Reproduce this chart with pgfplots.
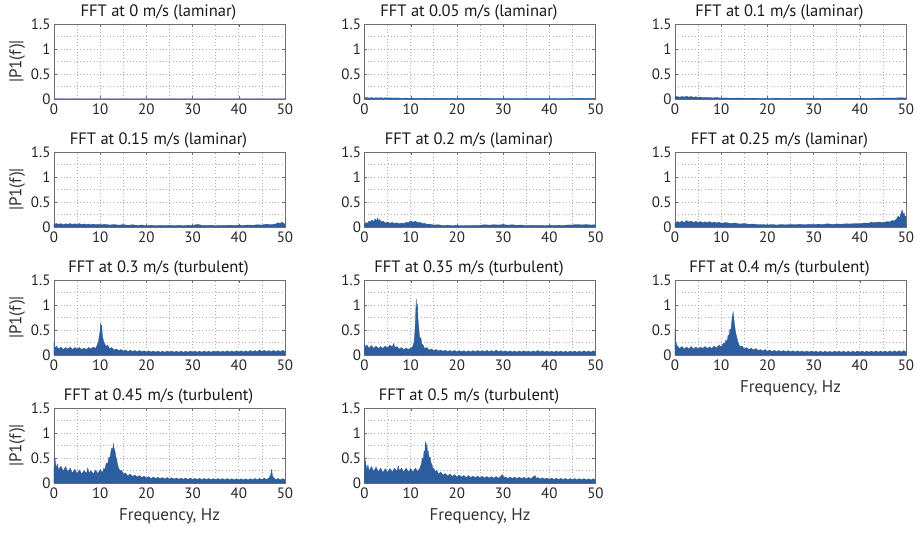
\documentclass[border=0pt]{standalone}
\usepackage{fontspec}
\setmainfont{PT Sans}
\usepackage{pgfplots}
\pgfplotsset{compat=1.18}
\usepgfplotslibrary{groupplots}

\definecolor{fftblue}{RGB}{44,93,158}
\definecolor{axgray}{RGB}{110,110,110}

\pgfplotsset{
  fftax/.style={
    scale only axis, width=231pt, height=75pt,
    xmin=0, xmax=50, ymin=0, ymax=1.5,
    xtick={0,10,...,50}, ytick={0,0.5,1,1.5},
    minor xtick={5,15,...,45}, minor ytick={0.25,0.75,1.25},
    grid=both,
    major grid style={black!30, dash pattern=on 0.9pt off 2.4pt, line width=0.6pt},
    minor grid style={black!30, dash pattern=on 0.9pt off 2.4pt, line width=0.6pt},
    axis line style={axgray, line width=0.7pt},
    tick style={axgray}, tick align=inside,
    major tick length=3pt, minor tick length=0pt,
    tick label style={font=\fontsize{15}{15}\selectfont, text=black!85},
    xticklabel style={yshift=-1.5pt},
    /pgf/number format/assume math mode=true,
    title style={font=\fontsize{16.5}{17}\selectfont, text=black!90, yshift=-6pt, xshift=-11pt},
    label style={font=\fontsize{17}{18}\selectfont, text=black!80},
    ylabel style={yshift=-1pt},
    xlabel style={yshift=-3pt},
  },
  fft/.style={fill=fftblue, draw=fftblue, line width=0.3pt},
}

\begin{document}
\begin{tikzpicture}
\begin{groupplot}[
  group style={group size=3 by 4, horizontal sep=79.5pt, vertical sep=53pt},
  fftax,
]

% 0 m/s
\nextgroupplot[title={FFT at 0 m/s (laminar)}, ylabel={|P1(f)|}]
\addplot[fft, draw=fftblue!70, line width=0.8pt] coordinates {(0,0.006)(1,0.004)(2,0.005)(5,0.004)(10,0.004)(20,0.003)(30,0.004)(40,0.003)(50,0.004)} \closedcycle;

% 0.05 m/s
\nextgroupplot[title={FFT at 0.05 m/s (laminar)}]
\addplot[fft] coordinates {(0,0.02)(0.5,0.03)(1,0.02)(1.5,0.028)(2,0.018)(2.5,0.026)(3,0.02)(3.5,0.027)(4,0.018)(4.5,0.025)(5,0.02)(5.5,0.024)(6,0.017)(7,0.022)(8,0.014)(9,0.018)(10,0.012)(12,0.015)(14,0.01)(16,0.012)(20,0.01)(25,0.011)(30,0.009)(35,0.01)(40,0.009)(45,0.01)(50,0.01)} \closedcycle;

% 0.1 m/s
\nextgroupplot[title={FFT at 0.1 m/s (laminar)}]
\addplot[fft] coordinates {(0,0.04)(0.5,0.05)(1,0.035)(1.5,0.05)(2,0.04)(2.5,0.055)(3,0.038)(3.5,0.05)(4,0.035)(4.5,0.045)(5,0.03)(5.5,0.04)(6,0.028)(6.5,0.035)(7,0.025)(7.5,0.032)(8,0.022)(9,0.028)(10,0.018)(11,0.022)(12,0.015)(14,0.018)(16,0.012)(20,0.014)(24,0.011)(28,0.013)(32,0.011)(36,0.012)(40,0.012)(43,0.015)(45,0.02)(47,0.018)(49,0.025)(50,0.02)} \closedcycle;

% 0.15 m/s
\nextgroupplot[title={FFT at 0.15 m/s (laminar)}, ylabel={|P1(f)|}]
\addplot[fft] coordinates {(0,0.05)(0.5,0.07)(1,0.055)(1.5,0.068)(2,0.05)(2.5,0.065)(3,0.055)(3.5,0.07)(4,0.05)(4.5,0.066)(5,0.052)(5.5,0.068)(6,0.05)(6.5,0.062)(7,0.048)(7.5,0.06)(8,0.045)(8.5,0.058)(9,0.045)(9.5,0.056)(10,0.042)(11,0.055)(12,0.04)(13,0.05)(14,0.038)(15,0.048)(16,0.035)(17,0.045)(18,0.032)(19,0.04)(20,0.028)(21,0.036)(22,0.026)(23,0.034)(24,0.027)(25,0.035)(26,0.027)(27,0.034)(28,0.028)(29,0.036)(30,0.03)(31,0.052)(31.5,0.045)(32,0.035)(33,0.03)(34,0.036)(35,0.028)(36,0.035)(37,0.03)(38,0.037)(39,0.03)(40,0.038)(41,0.032)(42,0.04)(43,0.035)(44,0.045)(45,0.04)(46,0.058)(47,0.045)(47.5,0.055)(48,0.06)(48.5,0.085)(49,0.07)(49.3,0.1)(49.6,0.075)(50,0.06)} \closedcycle;

% 0.2 m/s
\nextgroupplot[title={FFT at 0.2 m/s (laminar)}]
\addplot[fft] coordinates {(0,0.04)(0.3,0.09)(0.6,0.07)(1,0.12)(1.3,0.1)(1.6,0.14)(2,0.11)(2.3,0.16)(2.6,0.12)(2.8,0.18)(3,0.13)(3.3,0.15)(3.6,0.1)(4,0.12)(4.5,0.08)(5,0.1)(5.5,0.075)(6,0.09)(6.5,0.07)(7,0.085)(7.5,0.065)(8,0.08)(8.5,0.07)(9,0.095)(9.5,0.09)(10,0.12)(10.5,0.1)(11,0.115)(11.5,0.09)(12,0.095)(12.5,0.07)(13,0.075)(13.5,0.055)(14,0.06)(15,0.04)(16,0.045)(17,0.03)(18,0.036)(19,0.028)(20,0.034)(21,0.026)(22,0.032)(23,0.027)(24,0.034)(25,0.035)(26,0.045)(27,0.038)(28,0.046)(29,0.04)(30,0.048)(31,0.038)(32,0.044)(33,0.034)(34,0.04)(35,0.03)(36,0.036)(37,0.03)(38,0.035)(39,0.028)(40,0.034)(41,0.03)(42,0.036)(43,0.032)(44,0.04)(45,0.042)(46,0.05)(47,0.042)(48,0.048)(49,0.04)(50,0.045)} \closedcycle;

% 0.25 m/s
\nextgroupplot[title={FFT at 0.25 m/s (laminar)}]
\addplot[fft] coordinates {(0,0.07)(0.5,0.11)(1,0.09)(1.5,0.12)(2,0.09)(2.5,0.13)(3,0.1)(3.5,0.12)(4,0.09)(4.5,0.115)(5,0.09)(5.5,0.11)(6,0.085)(6.5,0.105)(7,0.085)(7.5,0.11)(8,0.08)(8.5,0.1)(9,0.08)(9.5,0.1)(10,0.075)(11,0.09)(12,0.07)(13,0.08)(14,0.06)(15,0.07)(16,0.055)(17,0.06)(18,0.045)(19,0.05)(20,0.04)(21,0.05)(22,0.04)(23,0.05)(24,0.042)(25,0.052)(26,0.045)(27,0.055)(28,0.045)(29,0.055)(30,0.048)(31,0.058)(32,0.05)(33,0.065)(34,0.052)(35,0.06)(36,0.055)(37,0.065)(38,0.06)(39,0.07)(40,0.065)(41,0.08)(42,0.075)(42.5,0.1)(43,0.085)(44,0.1)(45,0.09)(46,0.11)(46.5,0.1)(47,0.13)(47.5,0.12)(48,0.17)(48.3,0.22)(48.6,0.18)(49,0.3)(49.2,0.34)(49.4,0.25)(49.6,0.28)(49.8,0.2)(50,0.22)} \closedcycle;

% 0.3 m/s
\nextgroupplot[title={FFT at 0.3 m/s (turbulent)}, ylabel={|P1(f)|}]
\addplot[fft] coordinates {(0,0.26)(0.25,0.13)(0.5,0.18)(1,0.12)(1.5,0.16)(2,0.11)(2.5,0.15)(3,0.12)(3.5,0.16)(4,0.11)(4.5,0.15)(5,0.12)(5.5,0.15)(6,0.11)(6.5,0.14)(7,0.11)(7.5,0.15)(8,0.12)(8.5,0.16)(9,0.13)(9.3,0.19)(9.6,0.26)(9.8,0.38)(10,0.5)(10.1,0.64)(10.2,0.52)(10.3,0.6)(10.45,0.42)(10.6,0.33)(10.8,0.26)(11,0.22)(11.3,0.17)(11.6,0.2)(12,0.13)(12.5,0.15)(13,0.1)(13.5,0.12)(14,0.09)(14.5,0.11)(15,0.08)(15.5,0.1)(16,0.07)(16.5,0.095)(17,0.07)(17.5,0.09)(18,0.065)(18.5,0.09)(19,0.065)(19.5,0.085)(20,0.06)(20.5,0.085)(21,0.06)(21.5,0.08)(22,0.058)(22.5,0.08)(23,0.055)(23.5,0.078)(24,0.055)(24.5,0.08)(25,0.058)(25.5,0.08)(26,0.056)(26.5,0.078)(27,0.055)(27.5,0.08)(28,0.055)(28.5,0.078)(29,0.056)(29.5,0.08)(30,0.058)(30.5,0.08)(31,0.055)(31.5,0.078)(32,0.056)(32.5,0.08)(33,0.058)(33.5,0.078)(34,0.055)(34.5,0.08)(35,0.06)(35.5,0.082)(36,0.058)(36.5,0.08)(37,0.06)(37.5,0.085)(38,0.06)(38.5,0.082)(39,0.06)(39.5,0.085)(40,0.062)(40.5,0.085)(41,0.06)(41.5,0.085)(42,0.062)(42.5,0.09)(43,0.065)(43.5,0.09)(44,0.065)(44.5,0.1)(45,0.07)(45.5,0.095)(46,0.068)(46.5,0.09)(47,0.068)(47.5,0.092)(48,0.066)(48.5,0.09)(49,0.068)(49.5,0.095)(50,0.07)} \closedcycle;

% 0.35 m/s
\nextgroupplot[title={FFT at 0.35 m/s (turbulent)}]
\addplot[fft] coordinates {(0,0.23)(0.25,0.15)(0.5,0.2)(1,0.14)(1.5,0.19)(2,0.13)(2.5,0.18)(3,0.13)(3.5,0.17)(4,0.13)(4.5,0.18)(5,0.14)(5.5,0.2)(6,0.16)(6.3,0.23)(6.6,0.15)(7,0.17)(7.5,0.12)(8,0.15)(8.5,0.11)(9,0.14)(9.5,0.11)(10,0.14)(10.4,0.16)(10.7,0.25)(10.9,0.45)(11.05,0.75)(11.2,1.12)(11.3,0.85)(11.45,1.02)(11.6,0.7)(11.75,0.55)(11.9,0.38)(12.05,0.3)(12.2,0.35)(12.4,0.22)(12.7,0.2)(13,0.13)(13.5,0.15)(14,0.1)(14.5,0.12)(15,0.09)(15.5,0.11)(16,0.08)(16.5,0.1)(17,0.075)(17.5,0.095)(18,0.07)(18.5,0.09)(19,0.07)(19.5,0.09)(20,0.065)(20.5,0.088)(21,0.065)(21.5,0.085)(22,0.062)(22.5,0.085)(23,0.062)(23.5,0.088)(24,0.064)(24.5,0.09)(25,0.066)(25.5,0.09)(26,0.065)(26.5,0.092)(27,0.066)(27.5,0.09)(28,0.064)(28.5,0.1)(29,0.066)(29.5,0.088)(30,0.062)(30.5,0.085)(31,0.06)(31.5,0.082)(32,0.06)(32.5,0.08)(33,0.058)(33.5,0.082)(34,0.06)(34.5,0.085)(35,0.06)(35.5,0.08)(36,0.058)(36.5,0.082)(37,0.06)(37.5,0.09)(38,0.062)(38.5,0.085)(39,0.058)(39.5,0.08)(40,0.056)(40.5,0.078)(41,0.056)(41.5,0.08)(42,0.058)(42.5,0.08)(43,0.056)(43.5,0.078)(44,0.055)(44.5,0.08)(45,0.056)(45.5,0.078)(46,0.055)(46.5,0.08)(47,0.056)(47.5,0.085)(48,0.058)(48.5,0.082)(49,0.056)(49.5,0.085)(50,0.06)} \closedcycle;

% 0.4 m/s
\nextgroupplot[title={FFT at 0.4 m/s (turbulent)}, xlabel={Frequency, Hz}]
\addplot[fft] coordinates {(0,0.52)(0.15,0.3)(0.3,0.22)(0.5,0.18)(1,0.13)(1.5,0.17)(2,0.12)(2.5,0.16)(3,0.12)(3.5,0.17)(4,0.12)(4.5,0.16)(5,0.12)(5.5,0.16)(6,0.13)(6.5,0.17)(7,0.13)(7.5,0.16)(8,0.13)(8.5,0.18)(9,0.14)(9.5,0.2)(10,0.16)(10.5,0.24)(10.8,0.22)(11,0.3)(11.3,0.28)(11.5,0.4)(11.7,0.38)(11.9,0.52)(12.1,0.5)(12.3,0.68)(12.45,0.8)(12.6,0.86)(12.75,0.72)(12.9,0.6)(13.05,0.5)(13.2,0.42)(13.4,0.35)(13.6,0.26)(13.8,0.22)(14,0.17)(14.5,0.18)(15,0.12)(15.5,0.15)(16,0.11)(16.5,0.14)(17,0.1)(17.5,0.13)(18,0.09)(18.5,0.11)(19,0.08)(19.5,0.11)(20,0.075)(20.5,0.1)(21,0.07)(21.5,0.095)(22,0.068)(22.5,0.09)(23,0.065)(23.5,0.09)(24,0.065)(24.5,0.088)(25,0.062)(25.5,0.085)(26,0.06)(26.5,0.085)(27,0.06)(27.5,0.082)(28,0.058)(28.5,0.08)(29,0.058)(29.5,0.08)(30,0.056)(30.5,0.078)(31,0.055)(31.5,0.078)(32,0.055)(32.5,0.076)(33,0.054)(33.5,0.076)(34,0.054)(34.5,0.078)(35,0.055)(35.5,0.08)(36,0.055)(36.5,0.078)(37,0.054)(37.5,0.076)(38,0.054)(38.5,0.078)(39,0.055)(39.5,0.08)(40,0.056)(40.5,0.08)(41,0.055)(41.5,0.078)(42,0.055)(42.5,0.08)(43,0.056)(43.5,0.082)(44,0.056)(44.5,0.08)(45,0.055)(45.5,0.08)(46,0.056)(46.5,0.082)(47,0.057)(47.5,0.085)(48,0.058)(48.5,0.085)(49,0.06)(49.5,0.088)(50,0.06)} \closedcycle;

% 0.45 m/s
\nextgroupplot[title={FFT at 0.45 m/s (turbulent)}, ylabel={|P1(f)|}, xlabel={Frequency, Hz}]
\addplot[fft] coordinates {(0,0.3)(0.15,0.53)(0.3,0.42)(0.5,0.3)(0.75,0.38)(1,0.26)(1.5,0.34)(2,0.24)(2.5,0.33)(3,0.22)(3.5,0.3)(4,0.2)(4.5,0.28)(5,0.19)(5.5,0.26)(6,0.18)(6.5,0.25)(7,0.19)(7.3,0.3)(7.6,0.2)(8,0.25)(8.5,0.18)(9,0.26)(9.5,0.19)(10,0.27)(10.5,0.21)(10.8,0.3)(11,0.26)(11.3,0.4)(11.6,0.38)(11.9,0.52)(12.1,0.5)(12.3,0.62)(12.5,0.7)(12.7,0.66)(12.85,0.79)(13,0.7)(13.2,0.64)(13.4,0.52)(13.6,0.46)(13.8,0.35)(14,0.3)(14.3,0.24)(14.6,0.26)(15,0.18)(15.5,0.2)(16,0.14)(16.5,0.18)(17,0.13)(17.5,0.16)(18,0.12)(18.5,0.15)(19,0.11)(19.5,0.14)(20,0.1)(20.5,0.13)(21,0.09)(21.5,0.12)(22,0.09)(22.5,0.115)(23,0.085)(23.5,0.11)(24,0.08)(24.5,0.11)(25,0.08)(25.5,0.105)(26,0.078)(26.5,0.1)(27,0.075)(27.5,0.1)(28,0.075)(28.5,0.1)(29,0.072)(29.5,0.1)(30,0.07)(30.5,0.095)(31,0.07)(31.5,0.095)(32,0.068)(32.5,0.092)(33,0.068)(33.5,0.09)(34,0.066)(34.5,0.09)(35,0.066)(35.5,0.09)(36,0.065)(36.5,0.088)(37,0.064)(37.5,0.088)(38,0.064)(38.5,0.086)(39,0.062)(39.5,0.086)(40,0.062)(40.5,0.085)(41,0.062)(41.5,0.085)(42,0.062)(42.5,0.088)(43,0.064)(43.5,0.09)(44,0.064)(44.5,0.092)(45,0.066)(45.5,0.1)(46,0.07)(46.5,0.1)(46.9,0.16)(47.1,0.27)(47.3,0.14)(47.6,0.1)(48,0.07)(48.5,0.09)(49,0.065)(49.5,0.088)(50,0.066)} \closedcycle;

% 0.5 m/s
\nextgroupplot[title={FFT at 0.5 m/s (turbulent)}, xlabel={Frequency, Hz}]
\addplot[fft] coordinates {(0,0.3)(0.15,0.47)(0.3,0.38)(0.5,0.28)(0.75,0.36)(1,0.24)(1.5,0.33)(2,0.23)(2.5,0.32)(3,0.22)(3.5,0.3)(4,0.21)(4.5,0.29)(5,0.21)(5.5,0.29)(6,0.22)(6.5,0.3)(7,0.23)(7.3,0.34)(7.6,0.24)(8,0.3)(8.5,0.22)(9,0.3)(9.5,0.22)(10,0.29)(10.5,0.22)(11,0.3)(11.5,0.23)(12,0.3)(12.3,0.38)(12.5,0.5)(12.7,0.46)(12.9,0.64)(13.05,0.6)(13.2,0.83)(13.35,0.66)(13.5,0.8)(13.65,0.62)(13.8,0.64)(14,0.5)(14.2,0.52)(14.4,0.4)(14.6,0.38)(14.8,0.28)(15,0.3)(15.3,0.22)(15.6,0.26)(16,0.18)(16.5,0.22)(17,0.16)(17.5,0.19)(18,0.14)(18.5,0.18)(19,0.13)(19.5,0.17)(20,0.12)(20.5,0.16)(21,0.12)(21.5,0.15)(22,0.11)(22.5,0.15)(23,0.11)(23.5,0.14)(24,0.105)(24.5,0.14)(25,0.1)(25.5,0.135)(26,0.1)(26.5,0.13)(27,0.098)(27.5,0.13)(28,0.096)(28.5,0.13)(29,0.095)(29.5,0.14)(29.9,0.17)(30.2,0.1)(30.5,0.125)(31,0.09)(31.5,0.12)(32,0.09)(32.5,0.12)(33,0.088)(33.5,0.118)(34,0.086)(34.5,0.115)(35,0.085)(35.5,0.112)(36,0.084)(36.5,0.12)(36.9,0.15)(37.2,0.09)(37.5,0.11)(38,0.08)(38.5,0.105)(39,0.078)(39.5,0.1)(40,0.075)(40.5,0.1)(41,0.072)(41.5,0.096)(42,0.07)(42.5,0.095)(43,0.068)(43.5,0.092)(44,0.066)(44.5,0.09)(45,0.066)(45.5,0.09)(46,0.064)(46.5,0.088)(47,0.064)(47.5,0.088)(48,0.062)(48.5,0.086)(49,0.062)(49.5,0.086)(50,0.062)} \closedcycle;

\end{groupplot}
\pgfresetboundingbox
\path[use as bounding box] ([xshift=-54pt,yshift=24pt]group c1r1.north west) rectangle ++(918pt,-537pt);
\end{tikzpicture}
\end{document}
